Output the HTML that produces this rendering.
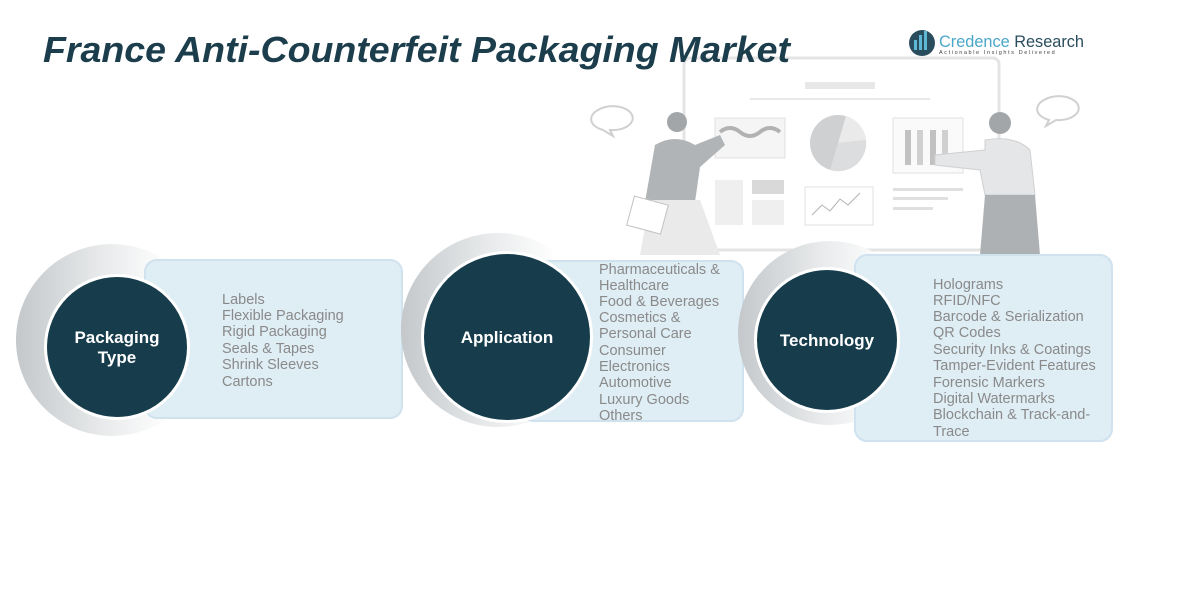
<!DOCTYPE html>
<html><head><meta charset="utf-8"><style>
html,body{margin:0;padding:0;background:#fff;}
svg{display:block;font-family:"Liberation Sans",sans-serif;}
.it{fill:#8a8a8a;font-size:14.5px;}
.c{fill:#fff;font-weight:bold;font-size:17px;text-anchor:middle;}
</style></head><body>
<svg width="1181" height="608" viewBox="0 0 1181 608" xmlns="http://www.w3.org/2000/svg">
<defs>
<linearGradient id="arc" x1="0" y1="0" x2="1" y2="0">
<stop offset="0" stop-color="#c4c8cb"/><stop offset="0.45" stop-color="#e8eaeb"/><stop offset="0.8" stop-color="#fff"/>
</linearGradient>
</defs>
<g opacity="0.9">
<rect x="684" y="58" width="315" height="192" rx="6" fill="#fff" stroke="#e2e2e2" stroke-width="3"/>
<rect x="805" y="82" width="70" height="7" fill="#e6e6e6"/>
<rect x="750" y="98" width="180" height="2" fill="#e6e6e6"/>
<rect x="715" y="118" width="70" height="40" fill="#f4f4f4" stroke="#ddd"/>
<path d="M720 132 q10 -8 20 0 t20 0 t20 0" stroke="#aaa" stroke-width="4" fill="none"/>
<circle cx="838" cy="143" r="28" fill="#c9cbcd"/>
<path d="M838 143 L846 116 A28 28 0 0 1 866 140 Z" fill="#e8e8e8"/>
<path d="M838 143 L866 140 A28 28 0 0 1 830 170 Z" fill="#d8dadb"/>
<rect x="893" y="118" width="70" height="55" fill="#fafafa" stroke="#ddd"/>
<rect x="905" y="130" width="6" height="35" fill="#bbb"/><rect x="917" y="130" width="6" height="35" fill="#ccc"/>
<rect x="930" y="130" width="6" height="35" fill="#bbb"/><rect x="942" y="130" width="6" height="35" fill="#ccc"/>
<rect x="715" y="180" width="28" height="45" fill="#eee"/><rect x="752" y="180" width="32" height="14" fill="#d5d5d5"/><rect x="752" y="200" width="32" height="25" fill="#eee"/>
<rect x="805" y="187" width="68" height="38" fill="#fff" stroke="#ddd"/>
<path d="M812 215 l10 -10 l8 6 l10 -12 l8 6 l12 -12" stroke="#aaa" fill="none"/>
<rect x="893" y="188" width="70" height="3" fill="#ddd"/><rect x="893" y="197" width="55" height="3" fill="#ddd"/><rect x="893" y="207" width="40" height="3" fill="#ddd"/>
<path d="M598 110 a20 12 0 1 1 12 20 l3 6 l-10 -6 a20 12 0 0 1 -5 -20z" fill="#fff" stroke="#ccc" stroke-width="2"/>
<path d="M1044 100 a20 12 0 1 1 12 20 l-10 6 l3 -6 a20 12 0 0 1 -5 -20z" fill="#fff" stroke="#ccc" stroke-width="2"/>
<circle cx="677" cy="122" r="10" fill="#9a9da0"/>
<path d="M655 145 q20 -12 40 0 l25 -10 l5 10 l-25 22 l-5 35 h-50 z" fill="#a9acaf"/>
<path d="M650 200 h50 l20 55 h-80 z" fill="#e8e8e8"/>
<rect x="630" y="200" width="35" height="30" fill="#fff" stroke="#bbb" transform="rotate(15 647 215)"/>
<circle cx="1000" cy="123" r="11" fill="#9a9da0"/>
<path d="M985 140 q30 -5 45 10 l5 45 h-50 l-5 -25 l-45 -5 v-10 l50 -5 z" fill="#e3e4e5" stroke="#ccc"/>
<path d="M985 195 h50 l5 60 h-60 z" fill="#a6a9ac"/>
</g>
<text x="43" y="62" font-size="36" font-weight="bold" font-style="italic" fill="#1c3d4c" textLength="747" lengthAdjust="spacingAndGlyphs">France Anti-Counterfeit Packaging Market</text>
<circle cx="922" cy="43" r="13" fill="#2a4d5e"/>
<rect x="914" y="40" width="3" height="10" fill="#5fb7d6"/><rect x="919" y="35" width="3" height="15" fill="#5fb7d6"/><rect x="924" y="31" width="3" height="19" fill="#5fb7d6"/>
<text x="939" y="47" font-size="17" fill="#4aa7c9" textLength="145" lengthAdjust="spacingAndGlyphs">Credence <tspan fill="#2a4d5e">Research</tspan></text>
<text x="939" y="54" font-size="5.5" fill="#444" letter-spacing="1.6">Actionable Insights Delivered</text>
<circle cx="112" cy="340" r="96" fill="url(#arc)"/>
<rect x="145" y="260" width="257" height="158" rx="12" fill="#dfedf5" stroke="#cfe2ee" stroke-width="2"/>
<circle cx="117" cy="347" r="73" fill="#fff"/>
<circle cx="117" cy="347" r="70" fill="#173d4c"/>
<text class="c" x="117" y="343">Packaging</text><text class="c" x="117" y="363">Type</text>
<g class="it"><text x="222" y="304">Labels</text><text x="222" y="320">Flexible Packaging</text><text x="222" y="336">Rigid Packaging</text><text x="222" y="353">Seals &amp; Tapes</text><text x="222" y="369">Shrink Sleeves</text><text x="222" y="386">Cartons</text></g>
<circle cx="498" cy="330" r="97" fill="url(#arc)"/>
<rect x="522" y="261" width="221" height="160" rx="12" fill="#dfedf5" stroke="#cfe2ee" stroke-width="2"/>
<circle cx="507" cy="337" r="86" fill="#fff"/>
<circle cx="507" cy="337" r="83" fill="#173d4c"/>
<text class="c" x="507" y="343">Application</text>
<g class="it"><text x="599" y="274">Pharmaceuticals &amp;</text><text x="599" y="290">Healthcare</text><text x="599" y="306">Food &amp; Beverages</text><text x="599" y="322">Cosmetics &amp;</text><text x="599" y="338">Personal Care</text><text x="599" y="355">Consumer</text><text x="599" y="371">Electronics</text><text x="599" y="387">Automotive</text><text x="599" y="404">Luxury Goods</text><text x="599" y="420">Others</text></g>
<circle cx="830" cy="333" r="92" fill="url(#arc)"/>
<rect x="855" y="255" width="257" height="186" rx="12" fill="#dfedf5" stroke="#cfe2ee" stroke-width="2"/>
<circle cx="827" cy="340" r="73" fill="#fff"/>
<circle cx="827" cy="340" r="70" fill="#173d4c"/>
<text class="c" x="827" y="346">Technology</text>
<g class="it"><text x="933" y="289">Holograms</text><text x="933" y="305">RFID/NFC</text><text x="933" y="321">Barcode &amp; Serialization</text><text x="933" y="337">QR Codes</text><text x="933" y="354">Security Inks &amp; Coatings</text><text x="933" y="370">Tamper-Evident Features</text><text x="933" y="387">Forensic Markers</text><text x="933" y="403">Digital Watermarks</text><text x="933" y="419">Blockchain &amp; Track-and-</text><text x="933" y="436">Trace</text></g>
</svg>
</body></html>
